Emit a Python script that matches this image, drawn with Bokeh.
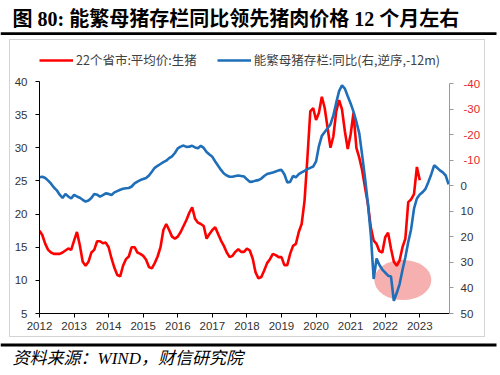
from bokeh.plotting import figure
from bokeh.layouts import column, row
from bokeh.models import (Range1d, LinearAxis, FixedTicker, Label, Legend, LegendItem,
                          BoxAnnotation)
from bokeh.embed import file_html
from bokeh.resources import INLINE

# ---------------- data ----------------
title_text = "图 80:  能繁母猪存栏同比领先猪肉价格 12 个月左右"
source_text = "资料来源：WIND，财信研究院"
red_name = "22个省市:平均价:生猪"
blue_name = "能繁母猪存栏:同比(右,逆序,-12m)"

year_ticks = [2012, 2013, 2014, 2015, 2016, 2017, 2018, 2019, 2020, 2021, 2022, 2023]
left_ticks = [5, 10, 15, 20, 25, 30, 35, 40]
right_ticks = [-40, -30, -20, -10, 0, 10, 20, 30, 40, 50]

# monthly, starting 2012-01
red_start = (2012, 1)
red_values = [
    17.5, 16.8, 15.5, 14.6, 14.2, 14.0, 14.0, 14.0, 14.2, 14.5, 14.8, 14.6,   # 2012
    16.0, 17.3, 15.3, 12.8, 12.2, 12.8, 14.2, 14.6, 15.9, 15.9, 15.6, 15.7,   # 2013
    15.0, 13.3, 11.9, 10.8, 10.6, 12.2, 13.2, 13.6, 15.0, 15.0, 14.2, 14.0,   # 2014
    13.7, 13.1, 12.0, 11.8, 12.6, 13.6, 15.0, 17.6, 18.5, 17.6, 16.6, 16.3,   # 2015
    16.6, 17.3, 18.2, 19.1, 20.2, 21.0, 19.3, 18.7, 18.5, 18.2, 16.3, 17.0,   # 2016
    17.6, 18.0, 17.0, 16.0, 15.2, 14.2, 13.5, 13.7, 14.3, 14.7, 14.3, 14.3,   # 2017
    14.8, 14.5, 13.3, 11.2, 10.3, 10.5, 11.5, 12.6, 13.2, 14.0, 13.8, 13.5,   # 2018
    13.5, 12.3, 12.3, 14.0, 15.2, 15.5, 17.3, 18.5, 22.0, 28.5, 35.5, 36.0,   # 2019
    34.2, 35.3, 37.7, 36.0, 33.0, 30.0, 31.7, 35.5, 37.2, 35.8, 32.5, 29.8,   # 2020
    32.0, 35.3, 30.0, 28.5, 26.6, 24.0, 21.5, 18.0, 16.0, 15.5, 14.4, 14.2,   # 2021
    16.5, 17.2, 14.8, 12.8, 12.2, 13.0, 15.0, 16.3, 21.8, 22.2, 23.0, 27.1,   # 2022
    25.1,                                                                     # 2023
]

blue_start = (2012, 1)
blue_values = [
    -3.3, -3.5, -3.0, -2.0, -0.8, 0.7, 1.8, 3.5, 4.8, 3.2, 4.2, 5.0,          # 2012
    3.6, 4.2, 4.7, 5.5, 6.2, 5.8, 4.8, 3.2, 3.5, 4.3, 3.7, 3.0,               # 2013
    3.2, 3.6, 2.6, 2.1, 1.6, 1.2, 1.0, 0.9, 0.3, -0.9, -1.6, -2.2,            # 2014
    -2.6, -3.0, -4.0, -5.5, -7.0, -7.8, -8.5, -9.2, -9.8, -10.8, -11.5, -12.8,  # 2015
    -14.6, -15.3, -15.7, -15.2, -15.3, -15.6, -15.0, -14.7, -15.6, -14.8, -13.2, -12.2,  # 2016
    -11.3, -9.5, -7.8, -6.2, -4.8, -4.0, -3.5, -3.5, -3.8, -4.0, -3.8, -3.6,  # 2017
    -2.5, -1.5, -1.6, -2.0, -2.2, -2.8, -3.8, -4.6, -4.9, -5.2, -5.6, -6.0,   # 2018
    -6.2, -4.5, -1.3, -1.5, -3.8, -3.3, -4.5, -5.2, -5.8, -6.5, -7.0, -7.5,   # 2019
    -9.5, -15.5, -19.5, -21.0, -22.5, -24.0, -27.5, -32.5, -37.0, -39.3, -38.0, -35.0,  # 2020
    -32.2, -29.0, -25.0, -20.5, -12.0, -3.0, 7.0, 19.0, 36.5, 28.5, 31.0, 32.8,  # 2021
    34.0, 35.2, 35.5, 45.0, 42.0, 38.5, 33.0, 28.0, 22.0, 17.0, 9.0, 5.0,     # 2022
    3.4, 2.5, 1.2, -1.5, -4.5, -8.0, -7.0, -6.0, -5.2, -4.0, -0.5,            # 2023
]

# highlighted region (pink ellipse): centre date, centre value (right axis), size
mark_x, mark_y = 2022.51, 36.9
mark_w, mark_h = 1.65, 15.7


def month_positions(start, n):
    y, m = start
    return [y + (m - 1 + i) / 12.0 for i in range(n)]


red_x = month_positions(red_start, len(red_values))
blue_x = month_positions(blue_start, len(blue_values))

W = 500
SERIF_CJK = "Liberation Serif, Noto Sans CJK SC"


# ---------------- decor strips (title / source) ----------------
def strip(height):
    f = figure(width=W, height=height, output_backend="svg", toolbar_location=None,
               x_range=Range1d(0, W), y_range=Range1d(height, 0),
               x_axis_type=None, y_axis_type=None, min_border=0,
               min_border_left=0, min_border_right=0, min_border_top=0,
               min_border_bottom=0,
               background_fill_color="white", border_fill_color="white")
    f.outline_line_color = None
    return f


top = strip(38)
top.add_layout(Label(x=12, y=18.5, text=title_text, text_font=SERIF_CJK,
                     text_font_style="bold", text_font_size="20px", text_color="black",
                     text_align="left", text_baseline="middle"))
top.add_layout(BoxAnnotation(left=0, right=496, top=31.8, bottom=34.6,
                             fill_color="black", fill_alpha=1, line_color=None))

bottom = strip(35)
bottom.add_layout(BoxAnnotation(left=0, right=496, top=3.1, bottom=5.9,
                                fill_color="black", fill_alpha=1, line_color=None))
bottom.add_layout(Label(x=12, y=18, text=source_text, text_font=SERIF_CJK,
                        text_font_style="italic", text_font_size="17px",
                        text_color="black", text_align="left", text_baseline="middle"))

# ---------------- main chart ----------------
MW, MH = 474, 296                 # chart box (x 10..484, y 40..336 on page)
BL, BR, BB = 29, 35, 23           # borders around the frame
FH = MH - BB                      # frame height (frame top = box top)
L_TOP_PX, R_TOP_PX = 41, 43       # where 40 (left) and -40 (right) sit
X_END = 2023.86

left_top = 40 + (40 - 5) * L_TOP_PX / (FH - L_TOP_PX)
right_top = -40 - (50 + 40) * R_TOP_PX / (FH - R_TOP_PX)

p = figure(width=MW, height=MH, output_backend="svg", toolbar_location=None,
           x_range=Range1d(2012, X_END), y_range=Range1d(5, left_top),
           min_border_left=BL, min_border_right=BR, min_border_top=0,
           min_border_bottom=BB,
           background_fill_color="white", border_fill_color="white")
p.styles = {"outline": "1px solid #D4D4D4"}
p.extra_y_ranges = {"right": Range1d(start=50, end=right_top)}
p.outline_line_color = None
p.xgrid.visible = False
p.ygrid.visible = False

TICK_FONT = "Liberation Sans"
TICK_SIZE = "11.5px"
TICK_COLOR = "#333333"

xa = p.xaxis[0]
xa.ticker = FixedTicker(ticks=year_ticks)
xa.major_label_overrides = {y: str(y) for y in year_ticks}
ya = p.yaxis[0]
ya.ticker = FixedTicker(ticks=left_ticks)
ya.bounds = (5, 40)
for ax in (xa, ya):
    ax.axis_line_color = "black"
    ax.axis_line_width = 1
    ax.major_tick_line_color = "black"
    ax.major_tick_in = 0
    ax.major_tick_out = 4
    ax.minor_tick_line_color = None
    ax.major_label_text_font = TICK_FONT
    ax.major_label_text_font_size = TICK_SIZE
    ax.major_label_text_color = TICK_COLOR
xa.major_label_standoff = 4
ya.major_label_standoff = 8

# right axis: line, ticks and the non-negative labels
ra = LinearAxis(y_range_name="right", ticker=FixedTicker(ticks=right_ticks),
                bounds=(-40, 50))
ra.major_label_overrides = {t: ("" if t < 0 else str(t)) for t in right_ticks}
ra.axis_line_color = "#9A9A9A"
ra.major_tick_line_color = "#9A9A9A"
ra.major_tick_in = 0
ra.major_tick_out = 4
ra.minor_tick_line_color = None
ra.major_label_standoff = 7
ra.major_label_text_font = TICK_FONT
ra.major_label_text_font_size = TICK_SIZE
ra.major_label_text_color = TICK_COLOR
p.add_layout(ra, "right")

# second right axis carrying only the red negative labels, pulled back over the first
ra2 = LinearAxis(y_range_name="right", ticker=FixedTicker(ticks=right_ticks),
                 bounds=(-40, 50))
ra2.major_label_overrides = {t: (str(t) if t < 0 else "") for t in right_ticks}
ra2.axis_line_color = None
ra2.major_tick_line_color = None
ra2.minor_tick_line_color = None
ra2.major_tick_in = 0
ra2.major_tick_out = 0
ra2.major_label_standoff = -13
ra2.major_label_text_font = TICK_FONT
ra2.major_label_text_font_size = TICK_SIZE
ra2.major_label_text_color = "#E8262B"
p.add_layout(ra2, "right")

# pink ellipse
p.ellipse(x=[mark_x], y=[mark_y], width=mark_w, height=mark_h, y_range_name="right",
          fill_color="#F5A7A7", fill_alpha=0.9, line_color=None)

r_red = p.line(red_x, red_values, line_color="#FF0000", line_width=2.6)
r_blue = p.line(blue_x, blue_values, y_range_name="right", line_color="#1F6EB8",
                line_width=2.6)

legend = Legend(items=[LegendItem(label=red_name, renderers=[r_red]),
                       LegendItem(label=blue_name, renderers=[r_blue])],
                orientation="horizontal", location=(0, FH - 29.5),
                spacing=20, glyph_width=34, glyph_height=16, label_standoff=3,
                padding=0, margin=0, border_line_color=None,
                background_fill_alpha=0, label_text_font="Noto Sans CJK SC",
                label_text_font_size="12.5px", label_text_color="#404040",
                label_height=20)
p.add_layout(legend)

middle = row(p, margin=(2, W - MW - 10, 4, 10))
layout = column(top, middle, bottom, spacing=0)
open("out.html", "w").write(file_html(layout, INLINE))
